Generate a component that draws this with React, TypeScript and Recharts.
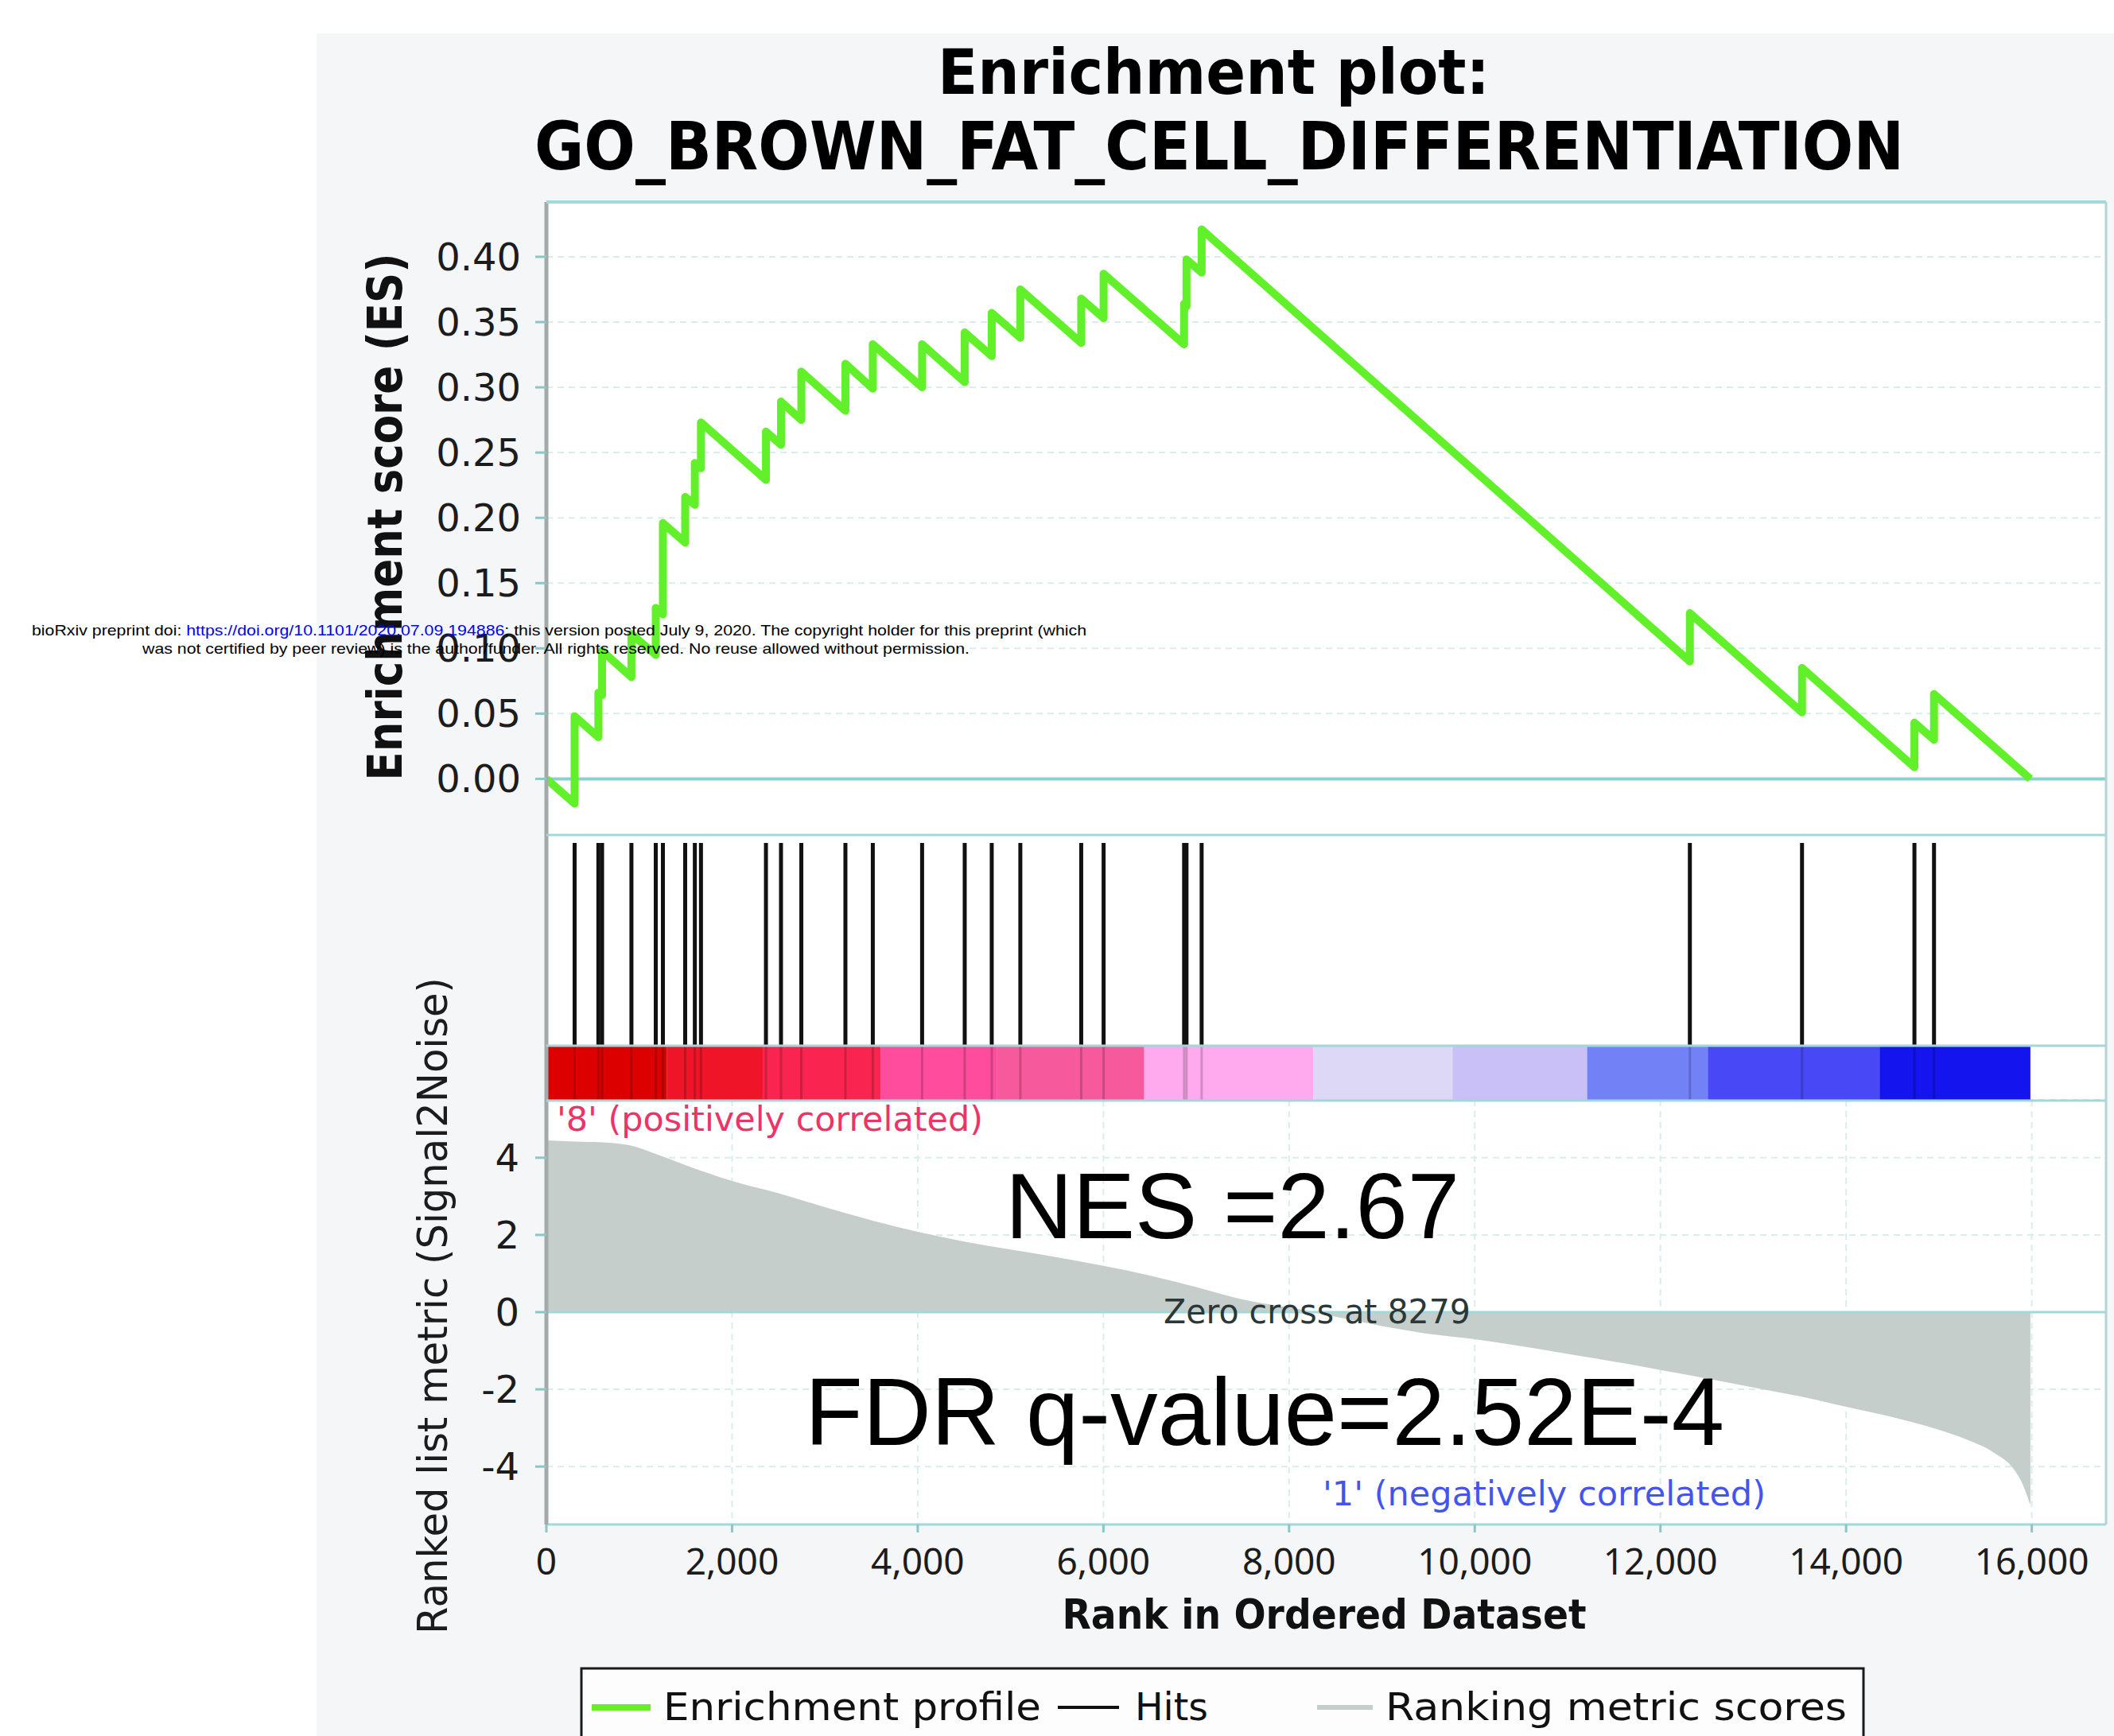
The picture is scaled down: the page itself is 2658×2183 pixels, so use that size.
import React from "react";
import {
  LineChart,
  Line,
  AreaChart,
  Area,
  ComposedChart,
  XAxis,
  YAxis,
  CartesianGrid,
  ReferenceLine,
  ReferenceArea,
} from "recharts";

const W = 2658;
const H = 2183;

// positions of the gene set members in the ranked list
const hitRanks = [
  304, 560, 600, 916, 1178, 1255, 1495, 1599, 1665, 2365, 2527, 2746, 3221, 3516,
  4047, 4506, 4797, 5105, 5761, 6002, 6869, 6895, 7058, 12317, 13525, 14736, 14947,
];

// running enrichment score, corners
const esRanks = [
  0, 304, 304, 560, 560, 600, 600, 916, 916, 1178, 1178, 1255, 1255, 1495, 1495,
  1599, 1599, 1665, 1665, 2365, 2365, 2527, 2527, 2746, 2746, 3221, 3221, 3516,
  3516, 4047, 4047, 4506, 4506, 4797, 4797, 5105, 5105, 5761, 5761, 6002, 6002,
  6869, 6869, 6895, 6895, 7058, 7058, 12317, 12317, 13525, 13525, 14736, 14736,
  14947, 14947, 15985,
];
const esValues = [
  0, -0.019, 0.048, 0.032, 0.066, 0.064, 0.098, 0.078, 0.111, 0.095, 0.131, 0.126,
  0.196, 0.181, 0.216, 0.21, 0.242, 0.238, 0.273, 0.229, 0.266, 0.256, 0.289, 0.275,
  0.312, 0.282, 0.318, 0.299, 0.333, 0.3, 0.333, 0.304, 0.342, 0.324, 0.357, 0.338,
  0.375, 0.334, 0.368, 0.353, 0.387, 0.333, 0.364, 0.362, 0.398, 0.388, 0.421, 0.09,
  0.127, 0.051, 0.085, 0.009, 0.043, 0.03, 0.065, 0,
];

// ranked list metric (Signal2Noise)
const metricRanks = [
  0, 300, 600, 900, 1200, 1600, 2000, 2500, 3000, 3500, 4000, 4500, 5000, 5500,
  6000, 6500, 7000, 7500, 8000, 8279, 8500, 9000, 9500, 10000, 10500, 11000, 11500,
  12000, 12500, 13000, 13500, 14000, 14500, 15000, 15300, 15600, 15800, 15900, 15985,
];
const metricValues = [
  4.45, 4.42, 4.4, 4.32, 4.08, 3.72, 3.4, 3.08, 2.72, 2.38, 2.08, 1.83, 1.62, 1.42,
  1.2, 0.95, 0.65, 0.33, 0.12, 0, -0.12, -0.36, -0.56, -0.7, -0.88, -1.08, -1.28,
  -1.5, -1.72, -1.95, -2.18, -2.45, -2.72, -3.05, -3.3, -3.65, -4.05, -4.45, -5.0,
];

// heat-map strip under the hits
const barEdges = [0, 1300, 2330, 3600, 4850, 6440, 8260, 9760, 11210, 12510, 14360, 15985];
const barColors = [
  "#dd0000", "#f01428", "#fa2450", "#ff4c9c", "#f65a9c", "#ffaaee",
  "#dcd8f6", "#c8c0f6", "#7282f6", "#4848f6", "#1414ee",
];

const rankTicks = [0, 2000, 4000, 6000, 8000, 10000, 12000, 14000, 16000];
const esTicks = [0, 0.05, 0.1, 0.15, 0.2, 0.25, 0.3, 0.35, 0.4];
const metricTicks = [-4, -2, 0, 2, 4];

const esData = esRanks.map((r, i) => ({ rank: r, es: esValues[i] }));
const metricData = metricRanks.map((r, i) => ({ rank: r, metric: metricValues[i] }));
const hitData = hitRanks.map((r) => ({ rank: r }));

const fmtRank = (v: number) => String(v).replace(/\B(?=(\d{3})+(?!\d))/g, ",");

const PLOT_L = 687;
const PLOT_R = 2648;
const RIGHT_M = W - PLOT_R;
const CYAN = "#a2d8d8";
const GRID = "#d9eded";
const AXIS = "#a4aaaa";
const TICK = "#8cc6c6";

const tickFont = { fill: "#1c1c1c", fontSize: 48, fontFamily: "DejaVu Sans" };

function layer(z: number): React.CSSProperties {
  return { position: "absolute", left: 0, top: 0, zIndex: z };
}

function EsPanel() {
  return (
    <div style={layer(2)}>
      <LineChart width={W} height={1100} data={esData}
        margin={{ top: 254, right: RIGHT_M, bottom: 50, left: 0 }}>
        <CartesianGrid stroke={GRID} strokeWidth={2} strokeDasharray="8 6" />
        <XAxis type="number" dataKey="rank" domain={[0, 16800]} ticks={rankTicks}
          allowDataOverflow height={0} tick={false} axisLine={false} tickLine={false} />
        <YAxis type="number" domain={[-0.043, 0.442]} ticks={esTicks} allowDataOverflow
          width={PLOT_L} tickSize={14} tickMargin={18}
          tickFormatter={(v: number) => v.toFixed(2)} tick={tickFont}
          axisLine={{ stroke: AXIS, strokeWidth: 5 }} tickLine={{ stroke: TICK, strokeWidth: 3 }} />
        <ReferenceLine y={0} stroke="#8ccfcf" strokeWidth={4} />
        <Line type="linear" dataKey="es" stroke="#62f02a" strokeWidth={10} dot={false}
          strokeLinejoin="round" isAnimationActive={false} />
      </LineChart>
    </div>
  );
}

function HitsPanel() {
  return (
    <div style={layer(3)}>
      <ComposedChart width={W} height={1400} data={hitData}
        margin={{ top: 1050, right: RIGHT_M, bottom: 17, left: 0 }}>
        <CartesianGrid stroke={GRID} strokeWidth={2} strokeDasharray="8 6" horizontal={false} />
        <XAxis type="number" dataKey="rank" domain={[0, 16800]} ticks={rankTicks}
          allowDataOverflow height={0} tick={false} axisLine={false} tickLine={false} />
        <YAxis type="number" domain={[0, 1]} allowDataOverflow width={PLOT_L}
          tick={false} tickLine={false} axisLine={{ stroke: AXIS, strokeWidth: 5 }} />
        {barColors.map((c, i) => (
          <ReferenceArea key={"b" + i} x1={barEdges[i]} x2={barEdges[i + 1]} y1={0} y2={0.204}
            fill={c} fillOpacity={1} stroke="none" />
        ))}
        {hitRanks.map((r, i) => (
          <ReferenceLine key={"h" + i} segment={[{ x: r, y: 0.204 }, { x: r, y: 0.97 }]}
            stroke="#111" strokeWidth={5} />
        ))}
        {hitRanks.map((r, i) => (
          <ReferenceLine key={"t" + i} segment={[{ x: r, y: 0 }, { x: r, y: 0.204 }]}
            stroke="#000" strokeOpacity={0.18} strokeWidth={3} />
        ))}
      </ComposedChart>
    </div>
  );
}

function MetricPanel() {
  return (
    <div style={layer(1)}>
      <AreaChart width={W} height={2000} data={metricData}
        margin={{ top: 1383, right: RIGHT_M, bottom: 3, left: 0 }}>
        <CartesianGrid stroke={GRID} strokeWidth={2} strokeDasharray="8 6" />
        <XAxis type="number" dataKey="rank" domain={[0, 16800]} ticks={rankTicks}
          allowDataOverflow height={80} tickSize={10} tickMargin={20}
          tickFormatter={fmtRank}
          tick={{ fill: "#1c1c1c", fontSize: 46, fontFamily: "Noto Sans" }}
          axisLine={{ stroke: CYAN, strokeWidth: 3 }} tickLine={{ stroke: TICK, strokeWidth: 3 }} />
        <YAxis type="number" domain={[-5.5, 5.5]} ticks={metricTicks} allowDataOverflow
          width={PLOT_L} tickSize={14} tickMargin={20} tick={tickFont}
          axisLine={{ stroke: AXIS, strokeWidth: 5 }} tickLine={{ stroke: TICK, strokeWidth: 3 }} />
        <ReferenceLine y={0} stroke={CYAN} strokeWidth={3} />
        <Area type="monotone" dataKey="metric" baseValue={0} stroke="none" fill="#c6cecc"
          fillOpacity={1} isAnimationActive={false} />
      </AreaChart>
    </div>
  );
}

function Backdrop() {
  return (
    <svg width={W} height={H} style={layer(0)}>
      <rect x={398} y={42} width={W - 398} height={H - 42} fill="#f4f6f8" />
      <rect x={PLOT_L} y={254} width={PLOT_R - PLOT_L} height={1917 - 254} fill="#ffffff" />
    </svg>
  );
}

function Overlay() {
  const sans = "DejaVu Sans";
  const arial = "Liberation Sans";
  return (
    <svg width={W} height={H} style={{ ...layer(5), pointerEvents: "none" }}>
      {/* frame */}
      <line x1={PLOT_L} x2={PLOT_R} y1={254} y2={254} stroke={CYAN} strokeWidth={4} />
      <line x1={PLOT_R} x2={PLOT_R} y1={254} y2={1917} stroke="#b6d2d2" strokeWidth={3} />
      <line x1={PLOT_L} x2={PLOT_R} y1={1050} y2={1050} stroke={CYAN} strokeWidth={3} />
      <line x1={PLOT_L} x2={PLOT_R} y1={1315} y2={1315} stroke={CYAN} strokeWidth={3} />
      <line x1={PLOT_L} x2={PLOT_R} y1={1384} y2={1384} stroke={CYAN} strokeWidth={3} />

      {/* titles */}
      <text x={1526} y={118} textAnchor="middle" fontFamily={sans} fontWeight="bold"
        fontSize={78} textLength={694} lengthAdjust="spacingAndGlyphs" fill="#000">
        Enrichment plot:
      </text>
      <text x={1533} y={213} textAnchor="middle" fontFamily={sans} fontWeight="bold"
        fontSize={84} textLength={1722} lengthAdjust="spacingAndGlyphs" fill="#000">
        GO_BROWN_FAT_CELL_DIFFERENTIATION
      </text>

      {/* axis titles */}
      <text transform="translate(505,650) rotate(-90)" textAnchor="middle" fontFamily={sans}
        fontWeight="bold" fontSize={60} textLength={663} lengthAdjust="spacingAndGlyphs" fill="#111">
        Enrichment score (ES)
      </text>
      <text transform="translate(562,1642) rotate(-90)" textAnchor="middle" fontFamily={sans}
        fontSize={52} textLength={826} lengthAdjust="spacingAndGlyphs" fill="#1c1c1c">
        Ranked list metric (Signal2Noise)
      </text>
      <text x={1665} y={2048} textAnchor="middle" fontFamily={sans} fontWeight="bold"
        fontSize={52} textLength={659} lengthAdjust="spacingAndGlyphs" fill="#111">
        Rank in Ordered Dataset
      </text>

      {/* annotations */}
      <text x={700} y={1422} fontFamily={sans} fontSize={42} textLength={536}
        lengthAdjust="spacingAndGlyphs" fill="#ee3366">
        '8' (positively correlated)
      </text>
      <text x={1264} y={1557} fontFamily={arial} fontSize={116} textLength={571}
        lengthAdjust="spacingAndGlyphs" fill="#000">
        NES =2.67
      </text>
      <text x={1463} y={1664} fontFamily={sans} fontSize={42} textLength={386}
        lengthAdjust="spacingAndGlyphs" fill="#2c3838">
        Zero cross at 8279
      </text>
      <text x={1012} y={1817} fontFamily={arial} fontSize={120} textLength={1156}
        lengthAdjust="spacingAndGlyphs" fill="#000">
        FDR q-value=2.52E-4
      </text>
      <text x={1663} y={1893} fontFamily={sans} fontSize={42} textLength={557}
        lengthAdjust="spacingAndGlyphs" fill="#4455ee">
        '1' (negatively correlated)
      </text>

      {/* legend */}
      <rect x={731} y={2098} width={1612} height={120} fill="#fdfdfd" stroke="#1a1a1a" strokeWidth={3} />
      <line x1={744} x2={818} y1={2147} y2={2147} stroke="#62f02a" strokeWidth={8} />
      <text x={834} y={2163} fontFamily={sans} fontSize={48} textLength={475}
        lengthAdjust="spacingAndGlyphs" fill="#111">
        Enrichment profile
      </text>
      <line x1={1330} x2={1407} y1={2147} y2={2147} stroke="#111" strokeWidth={4} />
      <text x={1427} y={2163} fontFamily={sans} fontSize={48} textLength={92}
        lengthAdjust="spacingAndGlyphs" fill="#111">
        Hits
      </text>
      <line x1={1656} x2={1726} y1={2147} y2={2147} stroke="#c6cecc" strokeWidth={6} />
      <text x={1742} y={2163} fontFamily={sans} fontSize={48} textLength={580}
        lengthAdjust="spacingAndGlyphs" fill="#111">
        Ranking metric scores
      </text>

      {/* preprint notice */}
      <text x={40} y={799} fontFamily={arial} fontSize={19} textLength={1326}
        lengthAdjust="spacingAndGlyphs" fill="#000">
        bioRxiv preprint doi: <tspan fill="#0000ff">https://doi.org/10.1101/2020.07.09.194886</tspan>; this version posted July 9, 2020. The copyright holder for this preprint (which
      </text>
      <text x={699} y={822} textAnchor="middle" fontFamily={arial} fontSize={19} textLength={1040}
        lengthAdjust="spacingAndGlyphs" fill="#000">
        was not certified by peer review) is the author/funder. All rights reserved. No reuse allowed without permission.
      </text>
    </svg>
  );
}

export default function App() {
  return (
    <div style={{ position: "absolute", left: 0, top: 0, width: W, height: H, background: "#fff", overflow: "hidden" }}>
      <Backdrop />
      <MetricPanel />
      <EsPanel />
      <HitsPanel />
      <Overlay />
    </div>
  );
}
